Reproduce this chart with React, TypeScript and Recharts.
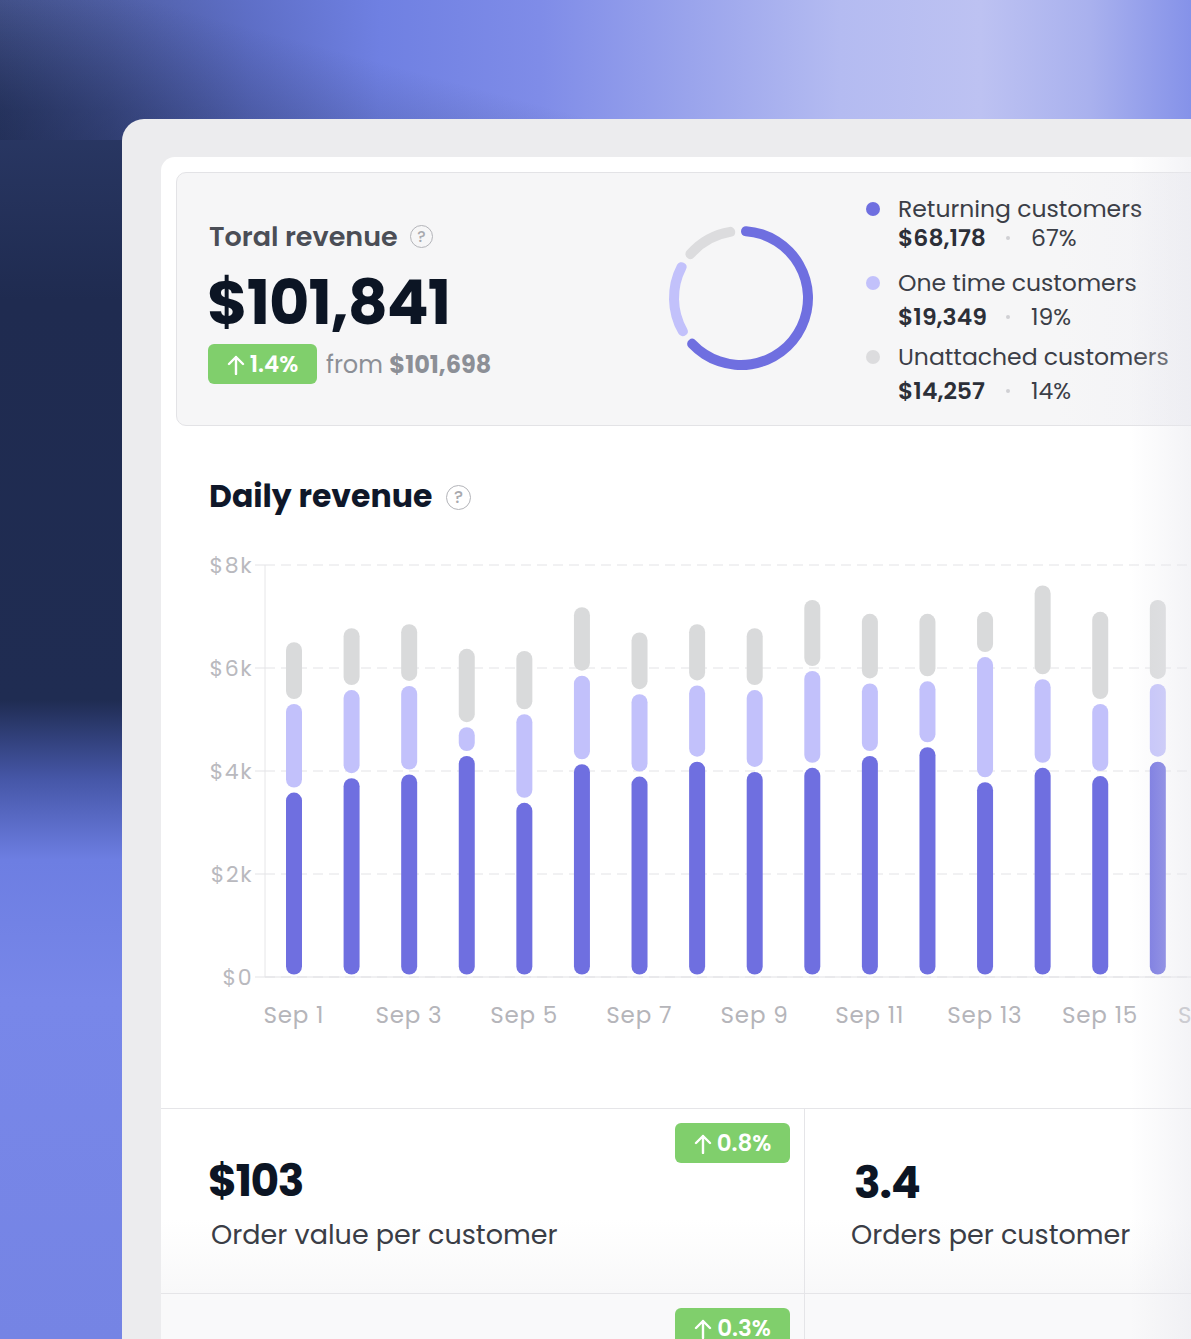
import { BarChart, Bar, XAxis, YAxis, CartesianGrid, PieChart, Pie, Cell } from 'recharts'

const days = ['Sep 1', 'Sep 2', 'Sep 3', 'Sep 4', 'Sep 5', 'Sep 6', 'Sep 7', 'Sep 8', 'Sep 9', 'Sep 10', 'Sep 11', 'Sep 12', 'Sep 13', 'Sep 14', 'Sep 15', 'Sep 16', 'Sep 17']
const returning = [3630, 3910, 3980, 4340, 3430, 4180, 3940, 4230, 4030, 4110, 4340, 4510, 3830, 4110, 3950, 4230, 4050]
const oneTime = [1720, 1710, 1720, 560, 1720, 1720, 1600, 1480, 1590, 1880, 1410, 1280, 2430, 1720, 1400, 1510, 1600]
const unattached = [1200, 1200, 1200, 1520, 1230, 1330, 1200, 1190, 1200, 1380, 1350, 1310, 880, 1820, 1790, 1630, 1300]
const yTicks = [0, 2000, 4000, 6000, 8000]

const segmentNames = ['Returning customers', 'One time customers', 'Unattached customers']
const segmentValues = [68178, 19349, 14257]
const segmentShares = ['67%', '19%', '14%']
const segmentColors = ['#6f6fe0', '#c2c1fb', '#dcdcde']

const FONT = 'Poppins, Inter, "Noto Sans", sans-serif'

const rows = days.map((day, i) => ({
  day,
  returning: returning[i],
  oneTime: oneTime[i],
  unattached: unattached[i],
}))

const pieData = segmentNames.map((name, i) => ({ name, value: segmentValues[i] }))

const money = (v: number) => '$' + v.toLocaleString('en-US')

// each stacked piece is drawn as its own pill with a small gap
function Pill(props: any) {
  const { x, y, width, height, fill } = props
  const g = 2.5
  const h = height - 2 * g
  if (!h || h <= 0) return null
  const r = Math.min(width / 2, h / 2)
  return <rect x={x} y={y + g} width={width} height={h} rx={r} ry={r} fill={fill} />
}

function HelpIcon({ x, y, r }: { x: number; y: number; r: number }) {
  return (
    <div
      style={{
        position: 'absolute',
        left: x - r,
        top: y - r,
        width: r * 2 - 3,
        height: r * 2 - 3,
        border: '1.5px solid #b3b4b9',
        borderRadius: '50%',
        color: '#a8a9ae',
        fontSize: r * 1.3,
        fontWeight: 500,
        display: 'flex',
        alignItems: 'center',
        justifyContent: 'center',
        lineHeight: 1,
      }}
    >
      ?
    </div>
  )
}

function Badge({ x, y, w, h, text }: { x: number; y: number; w: number; h: number; text: string }) {
  return (
    <div
      style={{
        position: 'absolute',
        left: x,
        top: y,
        width: w,
        height: h,
        background: '#80cf6c',
        borderRadius: 6,
        color: '#fff',
        fontSize: 23,
        fontWeight: 600,
        display: 'flex',
        alignItems: 'center',
        justifyContent: 'center',
        gap: 5,
        lineHeight: 1,
      }}
    >
      <svg width="18" height="21" viewBox="0 0 18 21">
        <path d="M9 20 V3 M2 10 L9 3 L16 10" stroke="#fff" strokeWidth="2.4" fill="none" strokeLinecap="round" strokeLinejoin="round" />
      </svg>
      {text}
    </div>
  )
}

const abs = (left: number, top: number, extra: any = {}) => ({ position: 'absolute' as const, left, top, lineHeight: 1, whiteSpace: 'nowrap' as const, ...extra })

export default function App() {
  return (
    <div
      style={{
        position: 'absolute',
        left: 0,
        top: 0,
        width: 1191,
        height: 1339,
        overflow: 'hidden',
        fontFamily: FONT,
        background:
          'linear-gradient(180deg, #46558f 0px, #2a3865 110px, #1f2b50 300px, #1f2c52 700px, #4657a8 780px, #6d7ee2 860px, #7887e9 1000px, #7584e4 1339px)',
      }}
    >
      {/* top band, fading into the dark strip on the left */}
      <div
        style={{
          position: 'absolute',
          left: 0,
          top: 0,
          width: 1191,
          height: 140,
          background:
            'linear-gradient(90deg, rgba(101,118,214,0) 0px, rgba(101,118,214,0.3) 110px, rgba(101,118,214,0.8) 250px, #6f80e2 380px, #7f8ce8 540px, #9aa4ec 690px, #b4bbf1 840px, #bdc2f2 980px, #a9b1ee 1090px, #8592e9 1191px)',
        }}
      />
      <div style={{ position: 'absolute', left: 0, top: 0, width: 700, height: 140, background: 'linear-gradient(195deg, rgba(30,42,80,0) 45%, rgba(30,42,80,0.45) 100%)' }} />

      {/* outer frame */}
      <div style={{ position: 'absolute', left: 122, top: 119, width: 1200, height: 1300, background: '#ececee', borderRadius: 22 }} />
      {/* inner white panel */}
      <div style={{ position: 'absolute', left: 161, top: 157, width: 1200, height: 1300, background: '#ffffff', borderRadius: 14 }} />

      {/* total revenue card */}
      <div
        style={{
          position: 'absolute',
          left: 176,
          top: 172,
          width: 1100,
          height: 252,
          background: 'linear-gradient(90deg, #f6f6f7 0%, #f6f6f7 80%, #f1f1f6 100%)',
          border: '1px solid #e3e3e6',
          borderRadius: 10,
        }}
      />
      <div style={abs(209, 222.5, { fontSize: 27, fontWeight: 600, color: '#4b4e56' })}>Toral revenue</div>
      <HelpIcon x={422} y={237} r={12} />
      <div style={abs(207, 272, { fontSize: 62, fontWeight: 700, color: '#0c1524', letterSpacing: -1 })}>$101,841</div>
      <Badge x={208} y={344} w={109} h={40} text="1.4%" />
      <div style={abs(326, 353, { fontSize: 24, color: '#8c8f96' })}>
        from <span style={{ fontWeight: 700 }}>$101,698</span>
      </div>

      {/* donut */}
      <div style={{ position: 'absolute', left: 656, top: 213 }}>
        <PieChart width={160} height={160}>
          <Pie
            data={pieData}
            dataKey="value"
            cx={80}
            cy={80}
            innerRadius={62}
            outerRadius={72}
            startAngle={90}
            endAngle={-270}
            paddingAngle={5}
            cornerRadius={5}
            stroke="none"
            isAnimationActive={false}
          >
            {pieData.map((d, i) => (
              <Cell key={d.name} fill={segmentColors[i]} />
            ))}
          </Pie>
        </PieChart>
      </div>

      {/* legend */}
      {segmentNames.map((name, i) => {
        const cy = 209 + i * 74
        const vy = cy + 29 + (i > 0 ? 5 : 0)
        return (
          <div key={name}>
            <div style={{ position: 'absolute', left: 866, top: cy - 7, width: 14, height: 14, borderRadius: '50%', background: segmentColors[i] }} />
            <div style={abs(898, cy - 12, { fontSize: 23.5, color: '#3b3e47' })}>{name}</div>
            <div style={abs(898, vy - 12, { fontSize: 23.5, fontWeight: 600, color: '#2c2f38' })}>{money(segmentValues[i])}</div>
            <div style={{ position: 'absolute', left: 1006, top: vy - 2, width: 4, height: 4, borderRadius: '50%', background: '#d0d0d4' }} />
            <div style={abs(1031, vy - 12, { fontSize: 23.5, color: '#3b3e47' })}>{segmentShares[i]}</div>
          </div>
        )
      })}

      {/* daily revenue */}
      <div style={abs(209, 481, { fontSize: 31.5, fontWeight: 700, color: '#0f1729' })}>Daily revenue</div>
      <HelpIcon x={459} y={498} r={13} />

      <div style={{ position: 'absolute', left: 180, top: 540 }}>
        <BarChart width={1064} height={501} data={rows} margin={{ top: 25, right: 0, left: 0, bottom: 0 }} barSize={16}>
          <CartesianGrid vertical={false} strokeDasharray="10 6" stroke="#e3e3e6" />
          <XAxis
            dataKey="day"
            interval={1}
            tickLine={false}
            axisLine={{ stroke: '#e1e1e4' }}
            tick={{ fill: '#b5b5ba', fontSize: 23, letterSpacing: 0.8 }}
            tickMargin={24}
            height={64}
          />
          <YAxis
            width={85}
            domain={[0, 8000]}
            ticks={yTicks}
            tickFormatter={(v: number) => (v === 0 ? '$0' : `$${v / 1000}k`)}
            tickSize={10}
            tickMargin={2}
            tick={{ fill: '#b9b9be', fontSize: 22, letterSpacing: 1.5 }}
            axisLine={{ stroke: '#e6e6e8' }}
            tickLine={{ stroke: '#e3e3e6' }}
          />
          <Bar dataKey="returning" stackId="a" fill="#6f6fe0" shape={Pill} isAnimationActive={false} />
          <Bar dataKey="oneTime" stackId="a" fill="#c2c1fb" shape={Pill} isAnimationActive={false} />
          <Bar dataKey="unattached" stackId="a" fill="#d9dadb" shape={Pill} isAnimationActive={false} />
        </BarChart>
      </div>

      {/* bottom stat cards */}
      <div style={{ position: 'absolute', left: 161, top: 1108, width: 1100, height: 1, background: '#e5e5e8' }} />
      <div style={{ position: 'absolute', left: 161, top: 1109, width: 1100, height: 184, background: 'linear-gradient(180deg, #ffffff 60%, #f8f8f9 100%)' }} />
      <div style={{ position: 'absolute', left: 161, top: 1293, width: 1100, height: 1, background: '#e5e5e8' }} />
      <div style={{ position: 'absolute', left: 161, top: 1294, width: 1100, height: 60, background: '#f9f9fa' }} />
      <div style={{ position: 'absolute', left: 804, top: 1108, width: 1, height: 240, background: '#e5e5e8' }} />

      <Badge x={675} y={1123} w={115} h={40} text="0.8%" />
      <div style={abs(208, 1159, { fontSize: 44, fontWeight: 700, color: '#0c1524', letterSpacing: -1.5 })}>$103</div>
      <div style={abs(211, 1221, { fontSize: 27, color: '#3a3d46' })}>Order value per customer</div>

      <div style={abs(854, 1161, { fontSize: 44, fontWeight: 700, color: '#0c1524', letterSpacing: -1 })}>3.4</div>
      <div style={abs(851, 1221, { fontSize: 27, color: '#3a3d46' })}>Orders per customer</div>

      <Badge x={675} y={1308} w={115} h={40} text="0.3%" />

      {/* soft shading on the right edge of the panel */}
      <div style={{ position: 'absolute', left: 1130, top: 157, width: 61, height: 1200, background: 'linear-gradient(90deg, rgba(232,232,238,0) 0%, rgba(232,232,238,0.5) 100%)', pointerEvents: 'none' }} />
    </div>
  )
}
